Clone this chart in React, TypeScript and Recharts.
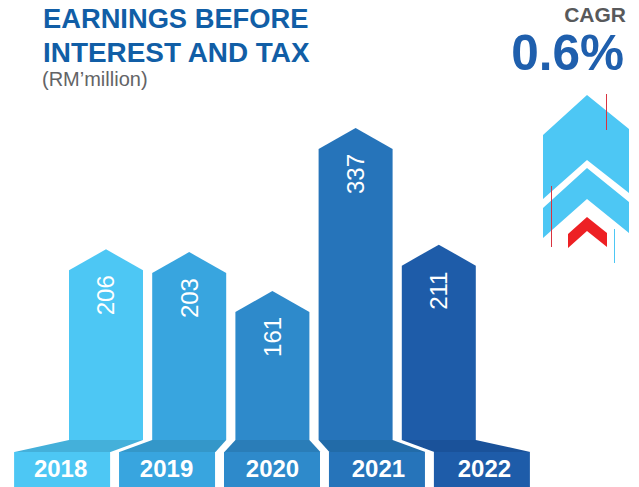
import React from "react";
import { BarChart, Bar, XAxis, YAxis, Cell, LabelList } from "recharts";

const years = ["2018", "2019", "2020", "2021", "2022"];
const ebit = [206, 203, 161, 337, 211];
const barColors = ["#4DC7F4", "#38A5DF", "#2E8ACB", "#2674BA", "#1E5CA9"];
const baseColors = ["#44B0DA", "#3497C9", "#2A7DB8", "#226BA8", "#1A529A"];
const rows = years.map((year, i) => ({ year, value: ebit[i] }));

const FONT = "'Liberation Sans', Arial, sans-serif";
const TITLE_BLUE = "#115EA6";
const BLUE = "#1F5FAD";
const GREY = "#636466";
const BOX_W = 96;
const BOX_SHIFT = 21.75; // boxes are spaced wider than the bars
const BASE_H = 12;
const BOX_H = 35;
const SHOULDER = 21;

const boxCenter = (barCenter: number, i: number) => barCenter + (i - 2) * BOX_SHIFT;

const HouseBar = (props: any) => {
  const { x, y, width, height, index } = props;
  const bottom = y + height;
  const cx = x + width / 2;
  const bc = boxCenter(cx, index);
  return (
    <g>
      <polygon
        points={`${x},${bottom} ${x + width},${bottom} ${bc + BOX_W / 2},${bottom + BASE_H} ${bc - BOX_W / 2},${bottom + BASE_H}`}
        fill={baseColors[index]}
      />
      <polygon
        points={`${x},${bottom} ${x},${y + SHOULDER} ${cx},${y} ${x + width},${y + SHOULDER} ${x + width},${bottom}`}
        fill={barColors[index]}
      />
    </g>
  );
};

const YearTick = (props: any) => {
  const { x, y, index, payload } = props;
  const bc = boxCenter(x, index);
  return (
    <g>
      <rect x={bc - BOX_W / 2} y={y + BASE_H} width={BOX_W} height={BOX_H} fill={barColors[index]} />
      <text
        x={bc + (index - 2) + 0.5}
        y={y + 37}
        textAnchor="middle"
        fill="#fff"
        fontFamily={FONT}
        fontWeight={700}
        fontSize={24}
      >
        {payload.value}
      </text>
    </g>
  );
};

const ValueLabel = (props: any) => {
  const { x, y, width, value } = props;
  const cx = x + width / 2;
  const cy = y + 46;
  return (
    <text
      x={cx}
      y={cy}
      transform={`rotate(-90 ${cx} ${cy})`}
      textAnchor="middle"
      dominantBaseline="central"
      fill="#fff"
      fontFamily={FONT}
      fontSize={24}
    >
      {value}
    </text>
  );
};

export default function App() {
  return (
    <div style={{ position: "absolute", left: 0, top: 0, width: 639, height: 487 }}>
      <BarChart
        width={639}
        height={487}
        data={rows}
        margin={{ top: 128, right: 159, bottom: 0, left: 64 }}
        barSize={74}
      >
        <XAxis
          dataKey="year"
          height={47}
          axisLine={false}
          tickLine={false}
          tickSize={0}
          tickMargin={0}
          interval={0}
          tick={<YearTick />}
        />
        <YAxis hide domain={[0, 337]} />
        <Bar dataKey="value" isAnimationActive={false} shape={<HouseBar />}>
          {rows.map((r, i) => (
            <Cell key={r.year} fill={barColors[i]} />
          ))}
          <LabelList dataKey="value" content={<ValueLabel />} />
        </Bar>

        <text x={43} y={28} fill={TITLE_BLUE} fontFamily={FONT} fontWeight={700} fontSize={27.3}>EARNINGS BEFORE</text>
        <text x={43} y={62} fill={TITLE_BLUE} fontFamily={FONT} fontWeight={700} fontSize={27.9}>INTEREST AND TAX</text>
        <text x={42} y={86} fill={GREY} fontFamily={FONT} fontSize={20}>(RM’million)</text>
        <text x={626} y={22} textAnchor="end" fill="#58595B" fontFamily={FONT} fontWeight={700} fontSize={21}>CAGR</text>
        <text x={624} y={70} textAnchor="end" fill={BLUE} fontFamily={FONT} fontWeight={700} fontSize={49.5}>0.6%</text>

        <polygon points="587,95 629,129 629,193 587,160 543,199 543,135" fill="#4DC7F4" />
        <polygon points="587,168 629,202 629,233 587,199 543,238 543,208" fill="#4DC7F4" />
        <polygon points="587,217 607,233 607,247 587,231 568,248 568,234" fill="#ED2024" />
        <line x1={606.5} y1={94} x2={606.5} y2={130} stroke="#D9333F" strokeWidth={1} />
        <line x1={551.5} y1={186} x2={551.5} y2={247} stroke="#D9333F" strokeWidth={1} />
        <line x1={614.5} y1={229} x2={614.5} y2={263} stroke="#4DC7F4" strokeWidth={1} />
      </BarChart>
    </div>
  );
}
